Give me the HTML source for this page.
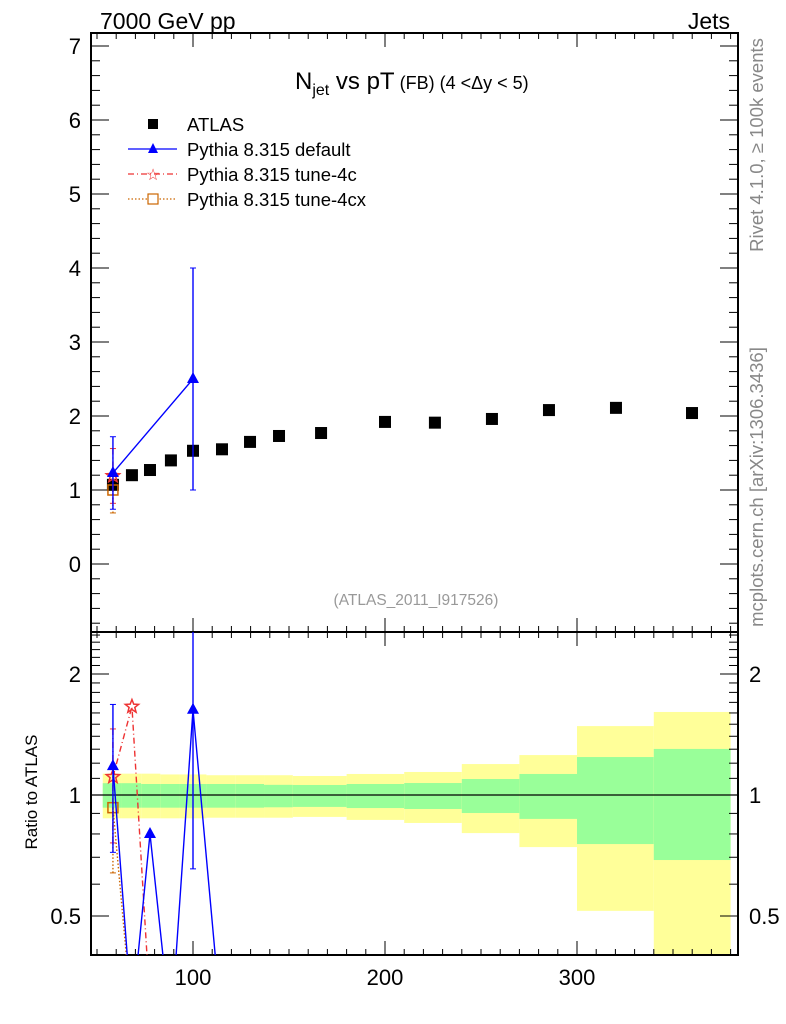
<!DOCTYPE html>
<html><head><meta charset="utf-8"><style>
body{margin:0;background:#fff;}
svg{display:block;font-family:"Liberation Sans",sans-serif;}
</style></head><body>
<svg id="c" width="786" height="1024" viewBox="0 0 786 1024">
<text x="100" y="29" font-size="23">7000 GeV pp</text>
<text x="730" y="29" font-size="23" text-anchor="end">Jets</text>
<text x="295" y="89" font-size="24">N<tspan font-size="16" dy="6">jet</tspan><tspan dy="-6"> vs pT</tspan><tspan font-size="18"> (FB) (4 &lt;Δy &lt; 5)</tspan></text>
<text x="416" y="605" font-size="15.5" fill="#999" text-anchor="middle">(ATLAS_2011_I917526)</text>
<text transform="translate(763,145) rotate(-90)" font-size="18.5" fill="#888" text-anchor="middle">Rivet 4.1.0, ≥ 100k events</text>
<text transform="translate(763,487) rotate(-90)" font-size="18.5" fill="#888" text-anchor="middle">mcplots.cern.ch [arXiv:1306.3436]</text>
<text transform="translate(37,792) rotate(-90)" font-size="17" text-anchor="middle">Ratio to ATLAS</text>
<g id="legend">
<g><rect x="148" y="119" width="10" height="10" fill="#000"/><text x="187" y="131" font-size="18.5">ATLAS</text></g>
<g><line x1="128" y1="149" x2="177" y2="149" stroke="#00f" stroke-width="1.2"/><path d="M153,143 L158,153 L148,153Z" fill="#00f"/><text x="187" y="156" font-size="18.5">Pythia 8.315 default</text></g>
<g><line x1="128" y1="174" x2="177" y2="174" stroke="#e33" stroke-width="1.2" stroke-dasharray="6,3,1,3"/><text x="153" y="180" font-size="16" fill="#e33" text-anchor="middle">☆</text><text x="187" y="181" font-size="18.5">Pythia 8.315 tune-4c</text></g>
<g><line x1="128" y1="199" x2="177" y2="199" stroke="#c60" stroke-width="1.2" stroke-dasharray="1.5,2"/><rect x="148" y="194" width="10" height="10" fill="#fff" stroke="#c60" stroke-width="1.2"/><text x="187" y="206" font-size="18.5">Pythia 8.315 tune-4cx</text></g>
</g>
</svg>
<script>
const atlasX=[58.3,68.2,77.6,88.5,100,115.1,129.7,144.8,166.7,200,226,255.7,285.4,320.3,359.9];
const atlasY=[1.07,1.20,1.27,1.40,1.53,1.55,1.65,1.73,1.77,1.92,1.91,1.96,2.08,2.11,2.04];
const binEdges=[53,63,73,83,93,107,122,137,152,180,210,240,270,300,340,380];
const yellowHi=[1.13,1.13,1.13,1.125,1.125,1.12,1.12,1.12,1.115,1.128,1.141,1.194,1.257,1.484,1.609];
const yellowLo=[0.875,0.875,0.875,0.875,0.875,0.878,0.878,0.878,0.882,0.867,0.852,0.804,0.742,0.515,0.31];
const greenHi=[1.07,1.07,1.065,1.065,1.065,1.065,1.065,1.06,1.059,1.065,1.071,1.096,1.128,1.243,1.302];
const greenLo=[0.93,0.93,0.93,0.93,0.93,0.93,0.93,0.932,0.934,0.928,0.923,0.902,0.872,0.755,0.689];
const defX=[58.3,100];
const defY=[1.23,2.5];
const defErrHi=[1.72,4.0];
const defErrLo=[0.74,1.0];
const c4X=[58.3];
const c4Y=[1.19];
const c4ErrHi=[1.56];
const c4ErrLo=[0.82];
const cxX=[58.3];
const cxY=[1.0];
const cxErrLo=[0.69];
const rDefX=[58.3,68.2,77.6,88.5,100,115.1];
const rDefY=[1.18,0.28,0.80,0.26,1.63,0.26];
const rDefErrHi=[1.68,0.28,0.80,0.26,3.0,0.26];
const rDefErrLo=[0.72,0.28,0.80,0.26,0.655,0.26];
const rC4X=[58.3,68.2,77.6];
const rC4Y=[1.11,1.66,0.30];
const rC4ErrHi=[1.46,1.66,0.3];
const rC4ErrLo=[0.76,1.66,0.3];
const rCxX=[58.3,68.2];
const rCxY=[0.93,0.28];
const rCxErrLo=[0.64,0.28];
const yTicksMain=[0,1,2,3,4,5,6,7];
const xTicks=[100,200,300];
const rTicks=[0.5,1,2];

const NS="http://www.w3.org/2000/svg";
const svg=document.getElementById('c');
const L=91,R=738,T1=33,B1=632,T2=632,B2=955;
const xS=v=>1+v*1.92;
const yM=v=>564-v*74;
const yR=v=>795-121*Math.log2(v);
function el(tag,attrs,parent){const e=document.createElementNS(NS,tag);for(const k in attrs)e.setAttribute(k,attrs[k]);(parent||svg).appendChild(e);return e;}
const defs=el('defs',{});
const cp1=el('clipPath',{id:'cm'},defs);el('rect',{x:L,y:T1,width:R-L,height:B1-T1},cp1);
const cp2=el('clipPath',{id:'cr'},defs);el('rect',{x:L,y:T2,width:R-L,height:B2-T2},cp2);
const gb=el('g',{'clip-path':'url(#cr)'});


for(let i=0;i<yellowHi.length;i++){
 const x0=xS(binEdges[i]),x1=xS(binEdges[i+1]);
 const yb=el('rect',{x:x0,y:yR(yellowHi[i]),width:x1-x0,height:yR(yellowLo[i])-yR(yellowHi[i]),fill:'#ffff99'},gb);
 
 
 const gr=el('rect',{x:x0,y:yR(greenHi[i]),width:x1-x0,height:yR(greenLo[i])-yR(greenHi[i]),fill:'#99ff99'},gb);
 
 
}
const one=el('line',{x1:L,x2:R,y1:yR(1),y2:yR(1),stroke:'#000','stroke-width':1.2});


const f1=el('rect',{x:L,y:T1,width:R-L,height:B1-T1,fill:'none',stroke:'#000','stroke-width':2});


const f2=el('rect',{x:L,y:T2,width:R-L,height:B2-T2,fill:'none',stroke:'#000','stroke-width':2});


const tg=el('g',{stroke:'#000','stroke-width':1});


for(let v=-0.8;v<=7.1;v+=0.2){const y=yM(v);const maj=Math.abs(v-Math.round(v))<0.01;const w=maj?18:9;
 el('line',{x1:L,x2:L+w,y1:y,y2:y},tg);el('line',{x1:R,x2:R-w,y1:y,y2:y},tg);}
for(let v=50;v<=380;v+=10){const x=xS(v);const maj=v%100===0;const h=maj?14:6;
 el('line',{x1:x,x2:x,y1:T1,y2:T1+h},tg);el('line',{x1:x,x2:x,y1:B1,y2:B1-h},tg);
 el('line',{x1:x,x2:x,y1:T2,y2:T2+h},tg);el('line',{x1:x,x2:x,y1:B2,y2:B2-h},tg);}
const rmin=[0.4,0.6,0.7,0.8,0.9,1.1,1.2,1.3,1.4,1.5,1.6,1.7,1.8,1.9,2.1,2.2,2.3,2.4,2.5];
rmin.forEach(v=>{const y=yR(v);el('line',{x1:L,x2:L+9,y1:y,y2:y},tg);el('line',{x1:R,x2:R-9,y1:y,y2:y},tg);});
rTicks.forEach(v=>{const y=yR(v);el('line',{x1:L,x2:L+18,y1:y,y2:y},tg);el('line',{x1:R,x2:R-18,y1:y,y2:y},tg);});
yTicksMain.forEach(v=>{const t=el('text',{x:81,y:yM(v)+8,'font-size':22,'text-anchor':'end'});t.textContent=v;
 
 });
xTicks.forEach(v=>{const t=el('text',{x:xS(v),y:985,'font-size':22,'text-anchor':'middle'});t.textContent=v;
 
 });
rTicks.forEach(v=>{const a=el('text',{x:81,y:yR(v)+8,'font-size':22,'text-anchor':'end'});a.textContent=v;
 
 
 const b=el('text',{x:749,y:yR(v)+8,'font-size':22});b.textContent=v;
 
 });
function tri(g,x,y,col){el('path',{d:`M${x},${y-7} L${x+6},${y+4} L${x-6},${y+4}Z`,fill:col},g);}
function star(g,x,y,col){let d='';for(let k=0;k<10;k++){const r=k%2?3:7;const a=-Math.PI/2+k*Math.PI/5;d+=(k?'L':'M')+(x+r*Math.cos(a))+','+(y+r*Math.sin(a));}el('path',{d:d+'Z',fill:'none',stroke:col,'stroke-width':1.5},g);}
function sq(g,x,y,col){el('rect',{x:x-5,y:y-5,width:10,height:10,fill:'none',stroke:col,'stroke-width':1.5},g);}
function series(name,clip,xs,ys,hi,lo,ys_f,col,dash,mk){
 const g=el('g',{'clip-path':clip});
 
 
 el('polyline',{points:xs.map((v,i)=>xS(v)+','+ys_f(ys[i])).join(' '),fill:'none',stroke:col,'stroke-width':1.4,'stroke-dasharray':dash},g);
 xs.forEach((v,i)=>{const x=xS(v);
  if(hi&&hi[i]!==ys[i]){el('line',{x1:x,x2:x,y1:ys_f(hi[i]),y2:ys_f(ys[i]),stroke:col,'stroke-width':1.4,'stroke-dasharray':dash},g);el('line',{x1:x-3,x2:x+3,y1:ys_f(hi[i]),y2:ys_f(hi[i]),stroke:col},g);}
  if(lo&&lo[i]!==ys[i]){el('line',{x1:x,x2:x,y1:ys_f(lo[i]),y2:ys_f(ys[i]),stroke:col,'stroke-width':1.4,'stroke-dasharray':dash},g);el('line',{x1:x-3,x2:x+3,y1:ys_f(lo[i]),y2:ys_f(lo[i]),stroke:col},g);}
  mk(g,x,ys_f(ys[i]),col);});
}
const ga=el('g',{'clip-path':'url(#cm)'});


atlasX.forEach((v,i)=>{const r=el('rect',{x:xS(v)-6,y:yM(atlasY[i])-6,width:12,height:12,fill:'#000'},ga);
 
 });
series('tune-4cx-series','url(#cm)',cxX,cxY,null,cxErrLo,yM,'#c60','1.5,2',sq);
series('tune-4c-series','url(#cm)',c4X,c4Y,c4ErrHi,c4ErrLo,yM,'#e33','6,3,1,3',star);
series('default-series','url(#cm)',defX,defY,defErrHi,defErrLo,yM,'#00f','',tri);
series('tune-4cx-ratio','url(#cr)',rCxX,rCxY,null,rCxErrLo,yR,'#c60','1.5,2',sq);
series('tune-4c-ratio','url(#cr)',rC4X,rC4Y,rC4ErrHi,rC4ErrLo,yR,'#e33','6,3,1,3',star);
series('default-ratio','url(#cr)',rDefX,rDefY,rDefErrHi,rDefErrLo,yR,'#00f','',tri);
</script>
</body></html>
